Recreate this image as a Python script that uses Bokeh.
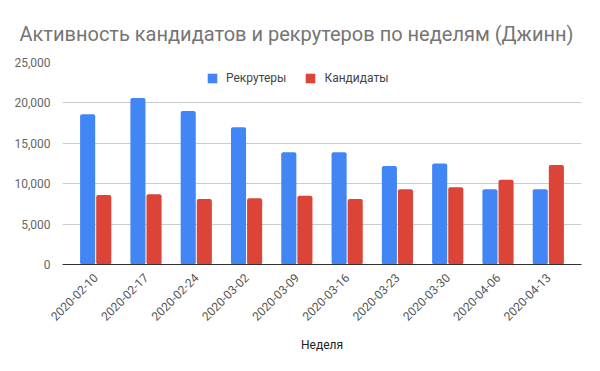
from bokeh.plotting import figure
from bokeh.models import FactorRange, ColumnDataSource, NumeralTickFormatter, Legend, LegendItem, FixedTicker
from bokeh.transform import dodge
from bokeh.embed import file_html
from bokeh.resources import INLINE
import math

weeks = ["2020-02-10", "2020-02-17", "2020-02-24", "2020-03-02", "2020-03-09",
         "2020-03-16", "2020-03-23", "2020-03-30", "2020-04-06", "2020-04-13"]
recruiters = [18600, 20600, 19000, 17000, 13900, 13900, 12200, 12500, 9300, 9300]
candidates = [8600, 8700, 8100, 8200, 8500, 8100, 9300, 9550, 10500, 12300]
y_ticks = [0, 5000, 10000, 15000, 20000, 25000]

title_text = "Активность кандидатов и рекрутеров по неделям (Джинн)"
series_names = ["Рекрутеры", "Кандидаты"]
x_title = "Неделя"

source = ColumnDataSource(dict(week=weeks, rec=recruiters, cand=candidates))

p = figure(width=592, height=363, output_backend="svg", toolbar_location=None,
           x_range=FactorRange(*weeks, range_padding=0.16, range_padding_units="absolute"),
           y_range=(0, 25000), min_border_left=62, min_border_right=11,
           min_border_top=62, min_border_bottom=99)

p.title.text = title_text
p.title.text_font = "Roboto"
p.title.text_font_size = "20px"
p.title.text_font_style = "normal"
p.title.text_color = "#757575"
p.title.align = "left"
p.title.offset = -43
p.title.standoff = 34

blue = "#4285F4"
red = "#DB4437"
r1 = p.vbar(x=dodge("week", -0.16, range=p.x_range), top="rec", width=0.30, source=source,
            fill_color=blue, line_color=None, border_radius=2)
r2 = p.vbar(x=dodge("week", 0.16, range=p.x_range), top="cand", width=0.30, source=source,
            fill_color=red, line_color=None, border_radius=2)

legend = Legend(items=[LegendItem(label=series_names[0], renderers=[r1]),
                       LegendItem(label=series_names[1], renderers=[r2])],
                orientation="horizontal", location=(144, 179),
                background_fill_alpha=0, border_line_color=None,
                label_text_font="Roboto", label_text_font_size="12px", label_text_color="#444444",
                glyph_width=12, glyph_height=12, label_standoff=8, spacing=18, padding=2, margin=0)
p.add_layout(legend)

p.yaxis.ticker = FixedTicker(ticks=y_ticks)
p.yaxis.formatter = NumeralTickFormatter(format="0,0")
p.yaxis.axis_line_color = None
p.yaxis.major_tick_line_color = None
p.yaxis.minor_tick_line_color = None
p.yaxis.major_label_text_font = "Roboto"
p.yaxis.major_label_text_font_size = "12px"
p.yaxis.major_label_text_color = "#666666"
p.yaxis.major_label_standoff = 6

p.xaxis.axis_line_color = "#333333"
p.xaxis.major_tick_line_color = None
p.xaxis.minor_tick_line_color = None
p.xaxis.major_label_orientation = math.pi / 4
p.xaxis.major_label_text_font = "Roboto"
p.xaxis.major_label_text_font_size = "12px"
p.xaxis.major_label_text_color = "#555555"
p.xaxis.major_label_standoff = 5
p.xaxis.axis_label = x_title
p.xaxis.axis_label_text_font = "Roboto"
p.xaxis.axis_label_text_font_size = "12px"
p.xaxis.axis_label_text_font_style = "normal"
p.xaxis.axis_label_text_color = "#222222"
p.xaxis.axis_label_standoff = 10

p.xgrid.grid_line_color = None
p.ygrid.grid_line_color = "#cccccc"
p.outline_line_color = None

open("out.html", "w").write(file_html(p, INLINE))
